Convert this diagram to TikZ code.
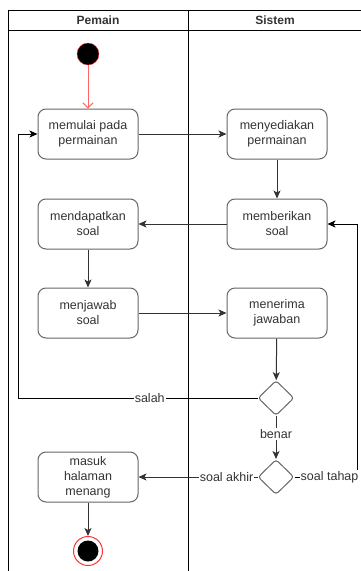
\documentclass[tikz,border=0pt]{standalone}
\usepackage{fontspec}
\setmainfont{Liberation Sans}
\usetikzlibrary{arrows.meta}
\usetikzlibrary{shapes.geometric}
\definecolor{boxgray}{HTML}{666666}
\definecolor{linegray}{HTML}{333333}
\definecolor{startred}{HTML}{FF3333}
\definecolor{arrowred}{HTML}{FF6666}
\tikzstyle{lane}=[line width=1pt, black]
\tikzstyle{activity}=[draw=boxgray, line width=1pt, rounded corners=8pt, minimum width=100pt, minimum height=50pt, align=center, text=linegray, font=\fontsize{12.5}{15}\selectfont]
\tikzstyle{decision}=[draw=boxgray, line width=1pt, diamond, rounded corners=3pt, minimum width=36pt, minimum height=35pt, inner sep=0pt]
\tikzstyle{flow}=[line width=1pt, linegray, -{Stealth[length=8pt, width=7pt, inset=2pt]}]
\tikzstyle{plain}=[line width=1pt, black]
\tikzstyle{guard}=[fill=white, inner sep=1pt, text=linegray, font=\fontsize{12.5}{15}\selectfont]

\begin{document}
\begin{tikzpicture}[x=1pt, y=-1pt]
  \useasboundingbox (0,0) rectangle (361,571);

  % swimlanes
  \draw[lane] (8,571) -- (8,10) -- (361,10);
  \draw[lane] (8,30) -- (361,30);
  \draw[lane] (188,10) -- (188,571);
  \node[font=\bfseries\fontsize{12}{14}\selectfont, text=linegray] (pemain) at (98,20) {Pemain};
  \node[font=\bfseries\fontsize{12}{14}\selectfont, text=linegray] (sistem) at (275,20) {Sistem};

  % nodes
  \node[circle, fill=black, draw=startred, minimum size=22pt, inner sep=0pt] (mulai) at (88,54) {};
  \node[activity] (memulai) at (88,134) {memulai pada\\permainan};
  \node[activity] (menyediakan) at (277,134) {menyediakan\\permainan};
  \node[activity] (mendapatkan) at (88,224) {mendapatkan\\soal};
  \node[activity] (memberikan) at (277,224) {memberikan\\soal};
  \node[activity] (menjawab) at (88,313) {menjawab\\soal};
  \node[activity] (menerima) at (277,313) {menerima\\jawaban};
  \node[decision] (cek) at (276,398) {};
  \node[decision] (tahap) at (276,477) {};
  \node[activity] (menang) at (88,477) {masuk\\halaman\\menang};
  \node[circle, draw=startred, line width=1pt, minimum size=29pt, inner sep=0pt] (selesai) at (88,551) {};
  \fill[black] (selesai.center) circle (10.5);

  \coordinate (salahturn) at (18,398);
  \coordinate (tahapturn) at (357,477);

  % edges
  \draw[line width=1pt, arrowred, -{Straight Barb[length=5pt, width=10pt]}] (mulai) -- (memulai);
  \draw[flow] (memulai) -- (menyediakan);
  \draw[flow] (menyediakan) -- (memberikan);
  \draw[flow] (memberikan) -- (mendapatkan);
  \draw[flow] (mendapatkan) -- (menjawab);
  \draw[flow] (menjawab) -- (menerima);
  \draw[flow] (menerima) -- (cek);
  \draw[plain] (cek.west) -- node[guard, pos=0.45] {salah} (salahturn);
  \draw[flow, black] (salahturn) |- (memulai.west);
  \draw[flow] (cek.south) -- node[guard, pos=0.42] {benar} (tahap.north);
  \draw[flow] (tahap.west) -- node[guard, pos=0.26] {soal akhir} (menang.east);
  \draw[flow, black] (tahap.east) -- (tahapturn) |- (memberikan.east);
  \node[guard, anchor=west] (tahaplbl) at ([xshift=5pt]tahap.east) {soal tahap};
  \draw[flow] (menang) -- (selesai);
\end{tikzpicture}
\end{document}
